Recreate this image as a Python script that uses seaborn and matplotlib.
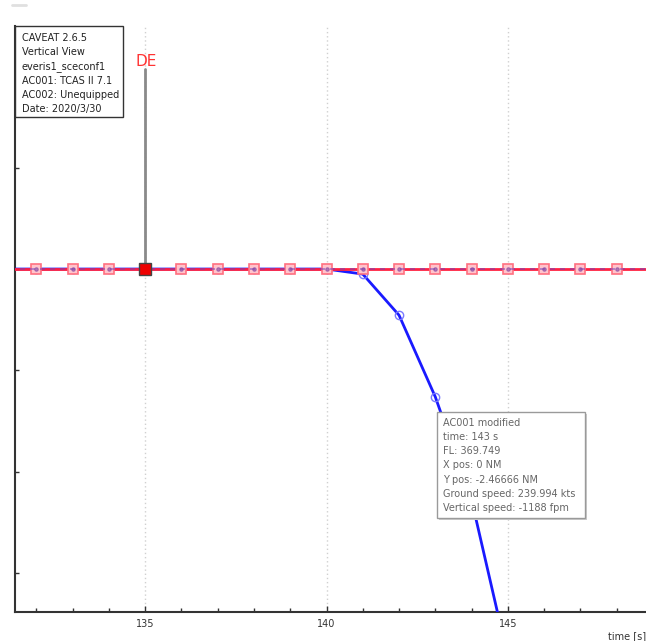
import numpy as np
import matplotlib
matplotlib.use("Agg")
import matplotlib.pyplot as plt
import seaborn as sns
from matplotlib.patches import Rectangle
from matplotlib.lines import Line2D

# AC002 (unequipped) and AC001 original: level flight
times = np.arange(131, 150)
ac002_fl = [370.0] * len(times)
ac001_orig_fl = [370.0] * len(times)

# AC001 modified (TCAS descent)
mod_times = np.arange(131, 146)
mod_fl = [370.0] * 10 + [369.990, 369.909, 369.748, 369.545, 369.235]

de_time = 135
de_fl = 370.0

info_lines = ["CAVEAT 2.6.5", "Vertical View", "everis1_sceconf1",
              "AC001: TCAS II 7.1", "AC002: Unequipped", "Date: 2020/3/30"]
tip_lines = ["AC001 modified", "time: 143 s", "FL: 369.749", "X pos: 0 NM",
             "Y pos: -2.46666 NM", "Ground speed: 239.994 kts",
             "Vertical speed: -1188 fpm"]

sns.set_style("white")
plt.rcParams['font.family'] = ['DejaVu Sans']

W, H = 646, 641
fig = plt.figure(figsize=(W / 100, H / 100), dpi=100)


def fx(px):
    return px / W


def fy(py):
    return 1 - py / H


ax = fig.add_axes([fx(15), fy(612), 1 - fx(15), fy(26) - fy(612)])

# modified AC001 (under)
sns.lineplot(x=mod_times, y=mod_fl, ax=ax, color="#1a1aff", lw=2, marker="o",
             markersize=6, markerfacecolor="none", markeredgecolor="#7a7aff",
             markeredgewidth=1, zorder=3)
# AC002
sns.lineplot(x=times, y=ac002_fl, ax=ax, color="#ff2040", lw=2, marker="s",
             markersize=7, markerfacecolor="#ffc4cc", markeredgecolor="#ff7080",
             markeredgewidth=1.2, zorder=4)
# AC001 original, dashed on top
sns.lineplot(x=times, y=ac001_orig_fl, ax=ax, color="#7040c0", lw=1.2, alpha=0.6,
             linestyle=(0, (3, 3)), marker="o", markersize=2.5,
             markerfacecolor="#8040a0", markeredgecolor="#8040a0", zorder=5)

# DE event
ax.plot([de_time, de_time], [de_fl, 370.394], color="#8a8a8a", lw=2, zorder=6)
ax.plot([de_time], [de_fl], marker="s", markersize=9, color="#ee0000",
        markeredgecolor="#444444", markeredgewidth=1, zorder=7)
ax.text(de_time + 0.03, 370.394, "DE", color="#ff3333", fontsize=11, ha="center",
        va="bottom", zorder=7)

ax.set_xlim(131.41, 148.81)
ax.set_ylim(369.324, 370.479)
ax.set_xticks([135, 140, 145])
ax.set_xticks(np.arange(132, 149), minor=True)
ax.set_yticks([369.4, 369.6, 369.8, 370.0, 370.2])
ax.set_yticklabels([])
ax.tick_params(axis="both", which="both", direction="in", colors="#333333",
               labelsize=7, width=1)
ax.tick_params(axis="x", which="major", length=4, pad=5, direction="in")
ax.tick_params(axis="x", which="minor", length=3, direction="in")
ax.tick_params(axis="y", which="major", length=3, left=True, direction="in")
ax.tick_params(axis="x", bottom=True, which="both")
ax.grid(axis="x", which="major", color="#d0d0d0", linestyle=(0, (1, 2)), lw=1)
ax.set_xlabel("")
ax.set_ylabel("")
for side in ["top", "right"]:
    ax.spines[side].set_visible(False)
for side in ["left", "bottom"]:
    ax.spines[side].set_color("#333333")
    ax.spines[side].set_linewidth(1.5)

fig.text(fx(646), fy(636), "time [s]", fontsize=7, color="#333333",
         ha="right", va="center")

# info box
fig.patches.append(Rectangle((fx(15), fy(117)), fx(123) - fx(15), fy(26) - fy(117),
                             transform=fig.transFigure, facecolor="white",
                             edgecolor="#333333", lw=1, zorder=10))
for i, line in enumerate(info_lines):
    fig.text(fx(22), fy(38 + i * 14.2), line, fontsize=7, color="#222222",
             va="center", ha="left", zorder=11)

# tooltip
fig.patches.append(Rectangle((fx(439), fy(520)), fx(585) - fx(437), fy(412) - fy(518),
                             transform=fig.transFigure, facecolor="#cccccc",
                             edgecolor="none", zorder=10))
fig.patches.append(Rectangle((fx(437), fy(518)), fx(585) - fx(437), fy(412) - fy(518),
                             transform=fig.transFigure, facecolor="white",
                             edgecolor="#9a9a9a", lw=1, zorder=10))
for i, line in enumerate(tip_lines):
    fig.text(fx(443), fy(422.5 + i * 14.3), line, fontsize=7, color="#666666",
             va="center", ha="left", zorder=11)

fig.lines.append(Line2D([fx(12), fx(26)], [fy(5), fy(5)], transform=fig.transFigure,
                        color="#e0e0e0", lw=2))

fig.savefig("out.png", dpi=100)
